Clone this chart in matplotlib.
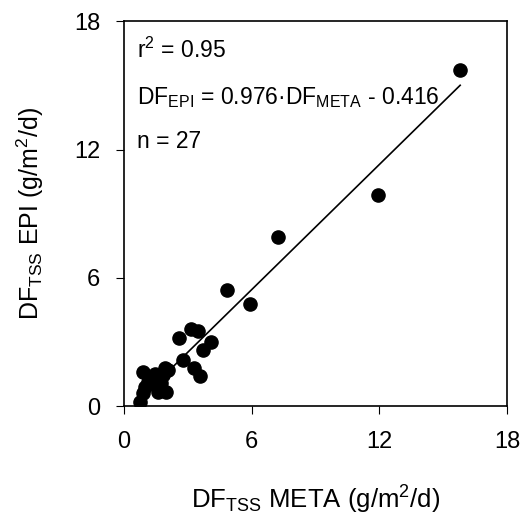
import numpy as np
import matplotlib.pyplot as plt

plt.rcParams['font.family'] = ['Liberation Sans', 'DejaVu Sans']
plt.rcParams['mathtext.default'] = 'regular'

# DF TSS META (x) and DF TSS EPI (y), g/m2/d
meta = [15.8, 11.95, 7.25, 4.84, 5.92, 3.18, 3.49, 2.58, 4.12, 3.72, 2.76, 3.30, 3.57,
        0.91, 1.46, 1.93, 2.08, 1.85, 1.69, 1.14, 1.54, 0.91, 1.61, 2.00, 0.75, 1.00, 1.75]
epi = [15.74, 9.86, 7.89, 5.45, 4.77, 3.60, 3.52, 3.19, 3.01, 2.62, 2.15, 1.76, 1.40,
       1.58, 1.50, 1.76, 1.68, 1.45, 1.29, 1.14, 0.98, 0.59, 0.67, 0.67, 0.20, 0.90, 1.10]
slope = 0.976
intercept = -0.416
ticks = [0, 6, 12, 18]

fig = plt.figure(figsize=(5.2, 5.18), dpi=100)
ax = fig.add_axes([0.238, 0.216, 0.737, 0.743])

ax.scatter(meta, epi, s=90, color='black', zorder=3)
xl = np.array([min(meta), max(meta)])
ax.plot(xl, slope * xl + intercept, color='black', lw=1.2, zorder=2)

ax.set_xlim(0, 18)
ax.set_ylim(0, 18)
ax.set_xticks(ticks)
ax.set_yticks(ticks)
ax.tick_params(direction='out', length=6, labelsize=17)
ax.tick_params(axis='x', pad=12)
ax.tick_params(axis='y', pad=11)
for s in ax.spines.values():
    s.set_linewidth(1.2)

ax.set_xlabel('DF$_{TSS}$ META (g/m$^{2}$/d)', fontsize=18.5, labelpad=22)
ax.set_ylabel('DF$_{TSS}$ EPI (g/m$^{2}$/d)', fontsize=18, labelpad=20)

ax.text(0.6, 16.27, 'r$^{2}$ = 0.95', fontsize=16.5, va='baseline')
ax.text(0.6, 14.12, 'DF$_{EPI}$ = 0.976·DF$_{META}$ - 0.416', fontsize=16.5, va='baseline')
ax.text(0.6, 12.06, 'n = 27', fontsize=16.5, va='baseline')

fig.savefig('out.png', dpi=100)
